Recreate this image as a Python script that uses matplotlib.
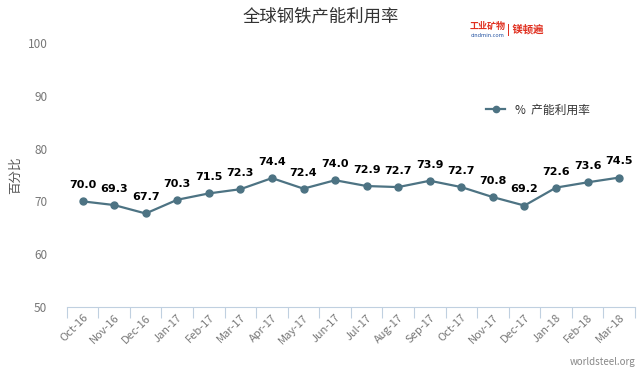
import matplotlib.pyplot as plt

plt.rcParams['font.family'] = ['Noto Sans CJK SC', 'DejaVu Sans']

months = ["Oct-16", "Nov-16", "Dec-16", "Jan-17", "Feb-17", "Mar-17", "Apr-17", "May-17",
          "Jun-17", "Jul-17", "Aug-17", "Sep-17", "Oct-17", "Nov-17", "Dec-17", "Jan-18",
          "Feb-18", "Mar-18"]
rate = [70.0, 69.3, 67.7, 70.3, 71.5, 72.3, 74.4, 72.4, 74.0, 72.9, 72.7, 73.9, 72.7, 70.8,
        69.2, 72.6, 73.6, 74.5]

line_color = "#4d7383"
grey = "#777777"

fig = plt.figure(figsize=(6.42, 3.73), dpi=100)
ax = fig.add_axes([0.104, 0.177, 0.885, 0.708])

x = list(range(len(months)))
ax.plot(x, rate, color=line_color, lw=1.6, marker="o", ms=5, label="%  产能利用率")
for xi, v in zip(x, rate):
    ax.annotate(f"{v:.1f}", (xi, v), xytext=(0, 8), textcoords="offset points",
                ha="center", va="bottom", fontsize=8, fontweight="bold", color="black",
                family="DejaVu Sans")

ax.set_xlim(-0.5, len(months) - 0.5)
ax.set_ylim(50, 100)
ax.set_yticks([50, 60, 70, 80, 90, 100])
ax.set_xticks([i - 0.5 for i in range(len(months) + 1)], minor=False)
ax.set_xticklabels([])
ax.set_xticks(x, minor=True)
ax.set_xticklabels(months, minor=True, rotation=45, ha="right", rotation_mode="anchor",
                   fontsize=8, color=grey)
ax.tick_params(axis="x", which="major", length=8, color="#c0d0e0")
ax.tick_params(axis="x", which="minor", length=0, pad=4)
ax.tick_params(axis="y", length=0, labelsize=8.5, labelcolor=grey, pad=14)

for s in ["top", "right", "left"]:
    ax.spines[s].set_visible(False)
ax.spines["bottom"].set_color("#c0d0e0")

ax.set_ylabel("百分比", fontsize=9, color="#555555", labelpad=4)

leg = ax.legend(loc="center left", bbox_to_anchor=(0.72, 0.746), frameon=False, fontsize=8.5,
                handlelength=1.6, markerscale=0.9)
for t in leg.get_texts():
    t.set_color("#333333")

fig.text(0.5, 0.955, "全球钢铁产能利用率", ha="center", va="center", fontsize=12.5, color="#333333")
fig.text(0.76, 0.93, "工业矿物", ha="center", va="center", fontsize=6.5, color="#e03020", fontweight="bold")
fig.text(0.76, 0.905, "cindmin.com", ha="center", va="center", fontsize=4, color="#2050a0")
fig.text(0.79, 0.92, "| 镁顿遍", ha="left", va="center", fontsize=7.5, color="#e03020", fontweight="bold")
fig.text(0.99, 0.03, "worldsteel.org", ha="right", va="center", fontsize=7, color="#888888")

fig.savefig("out.png", dpi=100)
